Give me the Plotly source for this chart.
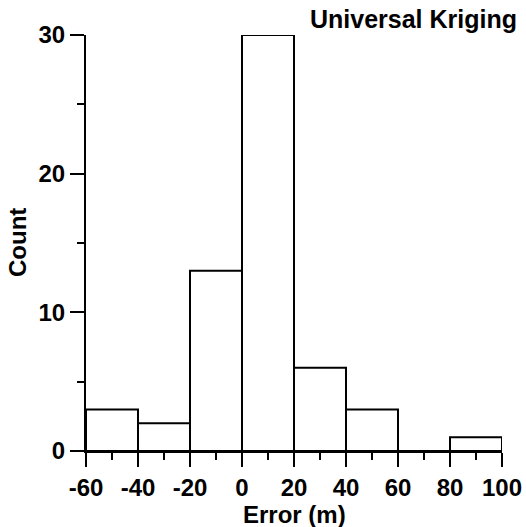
import plotly.graph_objects as go

bin_starts = [-60, -40, -20, 0, 20, 40, 60, 80]
bin_width = 20
counts = [3, 2, 13, 30, 6, 3, 0, 1]
x_ticks = [-60, -40, -20, 0, 20, 40, 60, 80, 100]
y_ticks = [0, 10, 20, 30]

FONT = "Liberation Sans, Arial, sans-serif"
W, H = 526, 527
TXT = dict(family=FONT, size=24, color="black", weight="bold")

fig = go.Figure(go.Bar(
    x=[s + bin_width / 2 for s in bin_starts],
    y=counts,
    width=bin_width,
    marker=dict(color="white", line=dict(color="black", width=2)),
))

fig.update_layout(
    width=W, height=H,
    margin=dict(l=86, r=24, t=35, b=76, autoexpand=False),
    plot_bgcolor="white", paper_bgcolor="white",
    showlegend=False,
    annotations=[
        dict(text="Universal Kriging", xref="paper", yref="paper", x=1, y=1,
             xanchor="right", yanchor="middle", xshift=17, yshift=16,
             showarrow=False, font=dict(TXT, size=25)),
        dict(text="Error (m)", xref="paper", yref="paper", x=0.5, y=0,
             xanchor="center", yanchor="middle", yshift=-63,
             showarrow=False, font=TXT),
        dict(text="Count", xref="paper", yref="paper", x=0, y=0.5, textangle=-90,
             xanchor="center", yanchor="middle", xshift=-69,
             showarrow=False, font=TXT),
    ],
)
fig.update_xaxes(
    range=[-60, 100], tickvals=x_ticks, ticktext=[str(v) for v in x_ticks],
    showline=True, linecolor="black", linewidth=2, showgrid=False, zeroline=False,
    ticks="outside", ticklen=14, tickwidth=2, tickcolor="black", automargin=False,
    minor=dict(dtick=10, tick0=0, ticks="outside", ticklen=7, tickwidth=2, tickcolor="black", showgrid=False),
    tickfont=TXT,
)
fig.update_yaxes(
    range=[0, 30], tickvals=y_ticks, ticktext=[str(v) for v in y_ticks],
    showline=True, linecolor="black", linewidth=2, showgrid=False, zeroline=False,
    ticks="outside", ticklen=14, tickwidth=2, tickcolor="black", automargin=False,
    minor=dict(dtick=5, tick0=0, ticks="outside", ticklen=7, tickwidth=2, tickcolor="black", showgrid=False),
    tickfont=TXT,
)

fig.write_html("out.html", config={"displayModeBar": False},
               post_script="document.body.style.margin='0';document.body.style.overflow='hidden';")
